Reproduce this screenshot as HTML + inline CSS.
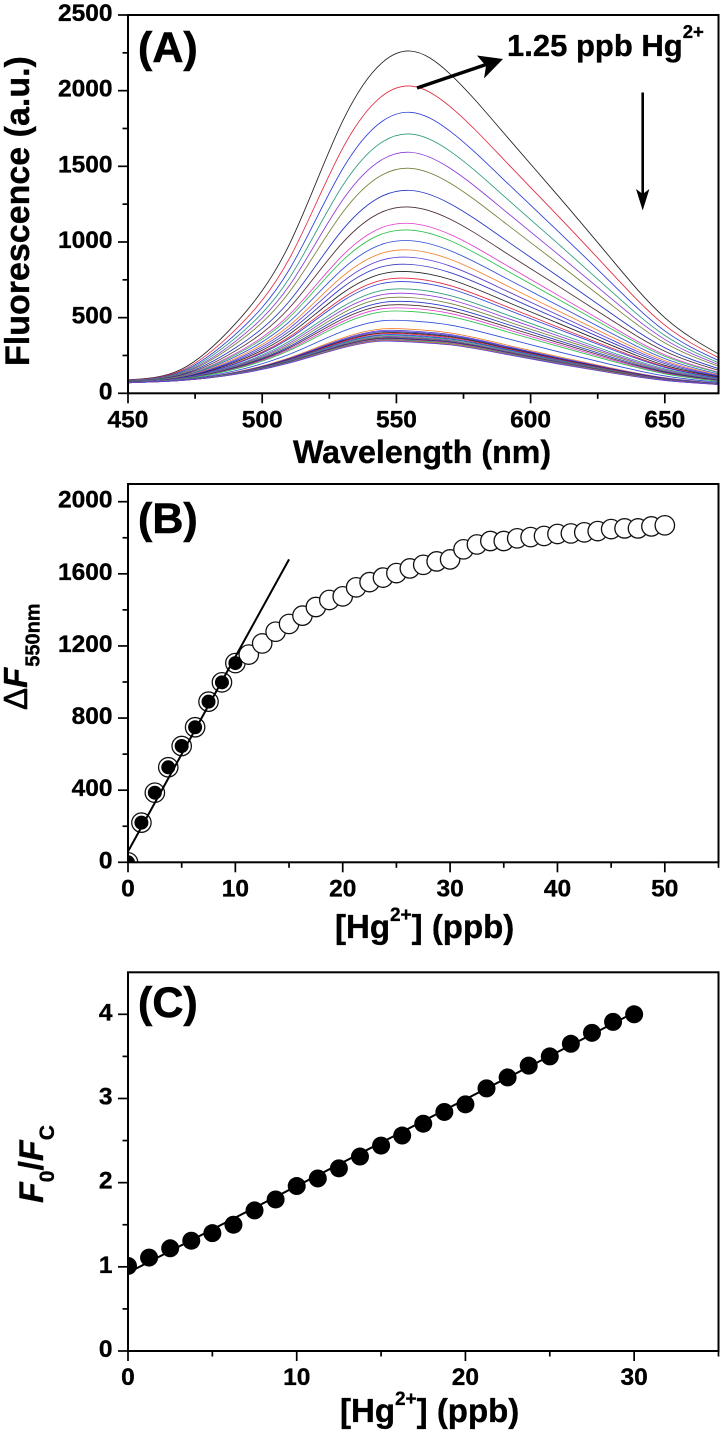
<!DOCTYPE html>
<html lang="en">
<head>
<meta charset="utf-8">
<title>Fluorescence response to Hg2+</title>
<style>
html,body{margin:0;padding:0;background:#fff;}
svg{display:block;}
text{font-family:"Liberation Sans",Arial,sans-serif;font-weight:bold;fill:#000;stroke:#000;stroke-width:0.35px;}
.tick{font-size:24.5px;}
.title{font-size:33px;}
.panel{font-size:43px;stroke-width:0.6px;}
</style>
</head>
<body>
<svg id="figure" xmlns="http://www.w3.org/2000/svg" width="722" height="1434" viewBox="0 0 722 1434">
  <defs>
    <clipPath id="clipA"><rect x="128" y="15" width="590.5" height="378.3"/></clipPath>
    <clipPath id="clipB"><rect x="128" y="484" width="590.5" height="378.3"/></clipPath>
    <clipPath id="clipC"><rect x="128" y="972.3" width="590.5" height="378.7"/></clipPath>
  </defs>
  <g id="panelA"></g>
  <g id="panelB"></g>
  <g id="panelC"></g>

  <text class="panel" x="138" y="62">(A)</text>
  <text class="panel" x="138" y="533">(B)</text>
  <text class="panel" x="138" y="1017">(C)</text>

  <text x="507" y="56" font-size="31">1.25 ppb Hg<tspan font-size="18.5" dy="-18">2+</tspan></text>
  <g>
    <line x1="417" y1="88" x2="492" y2="62.5" stroke="#000" stroke-width="3.4"/>
    <polygon points="503,59 477,55.5 486,66 484,78.5" fill="#000"/>
  </g>
  <g>
    <line x1="642.7" y1="92.5" x2="642.7" y2="198" stroke="#000" stroke-width="2.6"/>
    <polygon points="642.7,210.5 636,189 642.7,194 649.4,189" fill="#000"/>
  </g>

  <text x="293" y="463" font-size="32.2">Wavelength (nm)</text>
  <text x="0" y="0" font-size="34" transform="translate(29,366) rotate(-90)">Fluorescence (a.u.)</text>

  <text class="title" x="335" y="938">[Hg<tspan font-size="19" dy="-17">2+</tspan><tspan dy="17">] (ppb)</tspan></text>
  <text x="0" y="0" transform="translate(27,710) rotate(-90)" font-size="33"><tspan font-weight="normal" stroke-width="0.6">Δ</tspan><tspan font-style="italic">F</tspan><tspan font-size="20" dy="12.5" dx="1">550nm</tspan></text>

  <text class="title" x="340" y="1422">[Hg<tspan font-size="19" dy="-17">2+</tspan><tspan dy="17">] (ppb)</tspan></text>
  <text x="0" y="0" transform="translate(43,1203) rotate(-90)" font-size="34"><tspan font-style="italic">F</tspan><tspan font-size="21" dy="11">0</tspan><tspan dy="-11">/</tspan><tspan font-style="italic">F</tspan><tspan font-size="21" dy="11">C</tspan></text>
</svg>

<script>
// ---------- Panel A data ----------
const aWavelengths = [450,470,490,510,530,545,555,570,590,610,630,650,670];
const aCurve01 = [90,160,460,980,1800,2190,2262,2110,1720,1310,890,500,260];
const aCurve02 = [88,151,420,886,1620,1969,2031,1895,1545,1176,799,450,236];
const aCurve03 = [86,144,389,815,1484,1801,1857,1732,1412,1075,731,412,217];
const aCurve04 = [84,139,365,758,1373,1664,1714,1600,1304,992,675,382,202];
const aCurve05 = [83,134,343,709,1278,1548,1593,1487,1212,922,627,356,190];
const aCurve06 = [82,130,325,666,1196,1446,1487,1389,1132,861,586,333,179];
const aCurve07 = [80,124,300,606,1082,1306,1341,1253,1021,776,528,301,163];
const aCurve08 = [79,120,280,562,996,1201,1231,1151,937,712,485,278,152];
const aCurve09 = [78,116,262,518,912,1098,1123,1050,856,650,443,254,140];
const aCurve10 = [78,114,254,500,878,1055,1079,1009,822,624,426,245,136];
const aCurve11 = [77,111,242,471,822,987,1009,943,768,583,398,229,128];
const aCurve12 = [76,109,231,446,774,928,947,886,721,547,374,216,122];
const aCurve13 = [76,107,222,427,737,882,899,841,685,519,355,206,117];
const aCurve14 = [75,105,214,408,700,838,852,798,650,493,337,196,112];
const aCurve15 = [75,103,206,389,663,791,804,753,613,465,318,185,107];
const aCurve16 = [74,101,198,371,629,749,760,712,580,439,300,176,102];
const aCurve17 = [74,101,194,361,611,727,737,691,562,426,291,171,100];
const aCurve18 = [74,99,186,342,573,681,689,646,526,398,272,161,95];
const aCurve19 = [73,98,181,330,551,653,660,619,504,381,261,154,92];
const aCurve20 = [73,96,176,319,530,627,633,594,483,366,251,148,89];
const aCurve21 = [73,95,172,308,509,601,606,569,463,350,240,143,86];
const aCurve22 = [73,95,168,299,491,579,583,547,445,337,231,138,84];
const aCurve23 = [72,94,164,290,474,559,562,528,429,324,223,133,81];
const aCurve24 = [72,93,160,282,458,539,541,508,413,312,214,129,79];
const aCurve25 = [71,90,149,257,410,480,479,451,367,276,190,115,73];
const aCurve26 = [71,88,140,234,366,426,424,399,324,244,168,103,67];
const aCurve27 = [71,88,138,230,357,415,412,388,315,237,164,101,66];
const aCurve28 = [71,88,136,227,351,408,404,381,310,233,161,99,65];
const aCurve29 = [71,87,135,223,345,400,397,374,304,228,158,97,64];
const aCurve30 = [71,87,134,221,341,395,391,368,299,225,155,96,63];
const aCurve31 = [70,87,133,218,335,387,383,361,294,221,152,95,63];
const aCurve32 = [70,87,132,216,330,382,377,356,289,217,150,93,62];
const aCurve33 = [70,86,130,212,324,375,370,349,283,213,147,92,61];
const aCurve34 = [70,86,130,211,321,371,366,345,280,211,146,91,61];
const aCurve35 = [70,86,129,209,317,365,360,340,276,207,143,90,60];
const aCurve36 = [70,86,128,207,314,362,356,336,273,205,142,89,60];
const aCurve37 = [70,86,127,205,311,358,352,333,270,203,140,88,59];
const aCurve38 = [70,85,127,204,308,354,349,329,267,201,139,87,59];
const aCurve39 = [70,85,126,202,305,351,345,325,264,198,137,86,59];
const aCurve40 = [70,85,126,202,303,349,343,324,263,197,137,86,58];
const aCurve41 = [70,85,125,200,300,345,339,320,260,195,135,85,58];
const aCurves = [aCurve01,aCurve02,aCurve03,aCurve04,aCurve05,aCurve06,aCurve07,aCurve08,aCurve09,aCurve10,
  aCurve11,aCurve12,aCurve13,aCurve14,aCurve15,aCurve16,aCurve17,aCurve18,aCurve19,aCurve20,
  aCurve21,aCurve22,aCurve23,aCurve24,aCurve25,aCurve26,aCurve27,aCurve28,aCurve29,aCurve30,
  aCurve31,aCurve32,aCurve33,aCurve34,aCurve35,aCurve36,aCurve37,aCurve38,aCurve39,aCurve40,aCurve41];
const aCurveColors = ['#222222','#e0283c','#2c3ed8','#2f9a7c','#8a3ad8','#74803a','#2436c4','#4a2c30','#e23ad0','#2cc04c','#2c4cd8','#f0802c','#5a3cd8','#3436c0'];
const aXMajor = [450,500,550,600,650];
const aXMinor = [475,525,575,625];
const aYMajor = [0,500,1000,1500,2000,2500];
const aYMinor = [250,750,1250,1750,2250];

// ---------- Panel B data ----------
const bConc = [0,1.25,2.5,3.75,5,6.25,7.5,8.75,10,11.25,12.5,13.75,15,16.25,17.5,18.75,20,21.25,22.5,23.75,25,26.25,27.5,28.75,30,31.25,32.5,33.75,35,36.25,37.5,38.75,40,41.25,42.5,43.75,45,46.25,47.5,48.75,50];
const bDeltaF = [0,220,386,527,645,749,891,998,1105,1152,1214,1279,1322,1368,1416,1455,1475,1525,1554,1579,1604,1630,1650,1669,1680,1736,1763,1782,1782,1797,1804,1810,1821,1824,1830,1837,1848,1852,1852,1863,1869];
const bLinearConc = [0,1.25,2.5,3.75,5,6.25,7.5,8.75,10];
const bLinearDeltaF = [0,220,386,527,645,749,891,998,1105];
const bFitConc = [0,15];
const bFitDeltaF = [60,1680];
const bXMajor = [0,10,20,30,40,50];
const bXMinor = [5,15,25,35,45,55];
const bYMajor = [0,400,800,1200,1600,2000];
const bYMinor = [200,600,1000,1400,1800];

// ---------- Panel C data ----------
const cConc = [0,1.25,2.5,3.75,5,6.25,7.5,8.75,10,11.25,12.5,13.75,15,16.25,17.5,18.75,20,21.25,22.5,23.75,25,26.25,27.5,28.75,30];
const cRatio = [1.01,1.11,1.22,1.31,1.40,1.50,1.67,1.80,1.96,2.05,2.17,2.31,2.44,2.56,2.70,2.84,2.93,3.12,3.25,3.39,3.50,3.65,3.78,3.91,4.00];
const cFitConc = [0,30];
const cFitRatio = [0.93,4.02];
const cXMajor = [0,10,20,30];
const cXMinor = [5,15,25,35];
const cYMajor = [0,1,2,3,4];
const cYMinor = [0.5,1.5,2.5,3.5];

// ---------- Axis functions ----------
const PLOT_LEFT = 128, PLOT_RIGHT = 718.5;
function linearScale(d0, d1, r0, r1) { return v => r0 + (v - d0) * (r1 - r0) / (d1 - d0); }
const xA = linearScale(450, 670, PLOT_LEFT, PLOT_RIGHT);
const yA = linearScale(0, 2500, 393.3, 15);
const xB = linearScale(0, 55, PLOT_LEFT, PLOT_RIGHT);
const yB = linearScale(0, 2000, 862.3, 501.7);
const xC = linearScale(0, 35, PLOT_LEFT, PLOT_RIGHT);
const yC = linearScale(0, 4, 1351, 1014.3);

const SVG_NS = 'http://www.w3.org/2000/svg';
function make(tag, attrs, parent) {
  const el = document.createElementNS(SVG_NS, tag);
  for (const k in attrs) el.setAttribute(k, attrs[k]);
  parent.appendChild(el);
  return el;
}
// Natural cubic spline through the points, written as Bezier segments.
function smoothPath(xs, ys) {
  const n = xs.length;
  const h = [], s = [];
  for (let i = 0; i < n - 1; i++) {
    h.push(xs[i + 1] - xs[i]);
    s.push((ys[i + 1] - ys[i]) / h[i]);
  }
  const M = new Array(n).fill(0), c = new Array(n).fill(0), r = new Array(n).fill(0);
  for (let i = 1; i < n - 1; i++) {
    const a = h[i - 1], b = 2 * (h[i - 1] + h[i]), d = 6 * (s[i] - s[i - 1]);
    const den = b - a * c[i - 1];
    c[i] = h[i] / den;
    r[i] = (d - a * r[i - 1]) / den;
  }
  for (let i = n - 2; i > 0; i--) M[i] = r[i] - c[i] * M[i + 1];
  const m = [];
  for (let i = 0; i < n - 1; i++) m.push(s[i] - h[i] * (2 * M[i] + M[i + 1]) / 6);
  m.push(s[n - 2] + h[n - 2] * (M[n - 2] + 2 * M[n - 1]) / 6);
  let path = 'M' + xs[0].toFixed(2) + ' ' + ys[0].toFixed(2);
  for (let i = 0; i < n - 1; i++) {
    const t = h[i] / 3;
    path += 'C' + (xs[i] + t).toFixed(2) + ' ' + (ys[i] + m[i] * t).toFixed(2) + ' ' +
      (xs[i + 1] - t).toFixed(2) + ' ' + (ys[i + 1] - m[i + 1] * t).toFixed(2) + ' ' +
      xs[i + 1].toFixed(2) + ' ' + ys[i + 1].toFixed(2);
  }
  return path;
}

function drawAxes(parent, prefix, sx, sy, top, bottom, xMajor, xMinor, yMajor, yMinor, xBase) {
  const frame = make('rect', {x: PLOT_LEFT, y: top, width: PLOT_RIGHT - PLOT_LEFT, height: bottom - top, fill: 'none', stroke: '#000', 'stroke-width': 2}, parent);
  
  
  xMajor.forEach(v => {
    const t = make('line', {x1: sx(v), x2: sx(v), y1: bottom, y2: bottom + 10, stroke: '#000', 'stroke-width': 1.7}, parent);
    
    
    const l = make('text', {x: sx(v), y: xBase, 'text-anchor': 'middle', class: 'tick'}, parent);
    
    
    l.textContent = v;
  });
  xMinor.forEach(v => {
    const t = make('line', {x1: sx(v), x2: sx(v), y1: bottom, y2: bottom + 5.5, stroke: '#000', 'stroke-width': 1.7}, parent);
    
    
  });
  yMajor.forEach(v => {
    const t = make('line', {x1: 118, x2: PLOT_LEFT, y1: sy(v), y2: sy(v), stroke: '#000', 'stroke-width': 1.7}, parent);
    
    
    const l = make('text', {x: 112.5, y: sy(v) + 6, 'text-anchor': 'end', class: 'tick'}, parent);
    
    
    l.textContent = v;
  });
  yMinor.forEach(v => {
    const t = make('line', {x1: 122.5, x2: PLOT_LEFT, y1: sy(v), y2: sy(v), stroke: '#000', 'stroke-width': 1.7}, parent);
    
    
  });
}

// ---------- Panel A ----------
const panelA = document.getElementById('panelA');
const curvesGroup = make('g', {'clip-path': 'url(#clipA)'}, panelA);


aCurves.forEach((curve, i) => {
  const p = make('path', {
    d: smoothPath(aWavelengths.map(xA), curve.map(yA)),
    fill: 'none',
    stroke: aCurveColors[i % aCurveColors.length],
    'stroke-width': 0.85
  }, curvesGroup);
  
  
});
drawAxes(panelA, 'panel-a', xA, yA, 15, 393.3, aXMajor, aXMinor, aYMajor, aYMinor, 427.3);

// ---------- Panel B ----------
const panelB = document.getElementById('panelB');
const marksB = make('g', {'clip-path': 'url(#clipB)'}, panelB);


bConc.forEach((c, i) => {
  const o = make('circle', {cx: xB(c), cy: yB(bDeltaF[i]), r: 9.7, fill: '#fff', stroke: '#111', 'stroke-width': 1.3}, marksB);
  
  
});
const fitB = make('line', {x1: xB(bFitConc[0]), y1: yB(bFitDeltaF[0]), x2: xB(bFitConc[1]), y2: yB(bFitDeltaF[1]), stroke: '#000', 'stroke-width': 2}, marksB);


bLinearConc.forEach((c, i) => {
  const f = make('circle', {cx: xB(c), cy: yB(bLinearDeltaF[i]), r: 7, fill: '#000'}, marksB);
  
  
});
drawAxes(panelB, 'panel-b', xB, yB, 484, 862.3, bXMajor, bXMinor, bYMajor, bYMinor, 896.7);

// ---------- Panel C ----------
const panelC = document.getElementById('panelC');
const marksC = make('g', {'clip-path': 'url(#clipC)'}, panelC);


const fitC = make('line', {x1: xC(cFitConc[0]), y1: yC(cFitRatio[0]), x2: xC(cFitConc[1]), y2: yC(cFitRatio[1]), stroke: '#000', 'stroke-width': 2}, marksC);


cConc.forEach((c, i) => {
  const pt = make('circle', {cx: xC(c), cy: yC(cRatio[i]), r: 9, fill: '#000'}, marksC);
  
  
});
drawAxes(panelC, 'panel-c', xC, yC, 972.3, 1351, cXMajor, cXMinor, cYMajor, cYMinor, 1385);
</script>
</body>
</html>
